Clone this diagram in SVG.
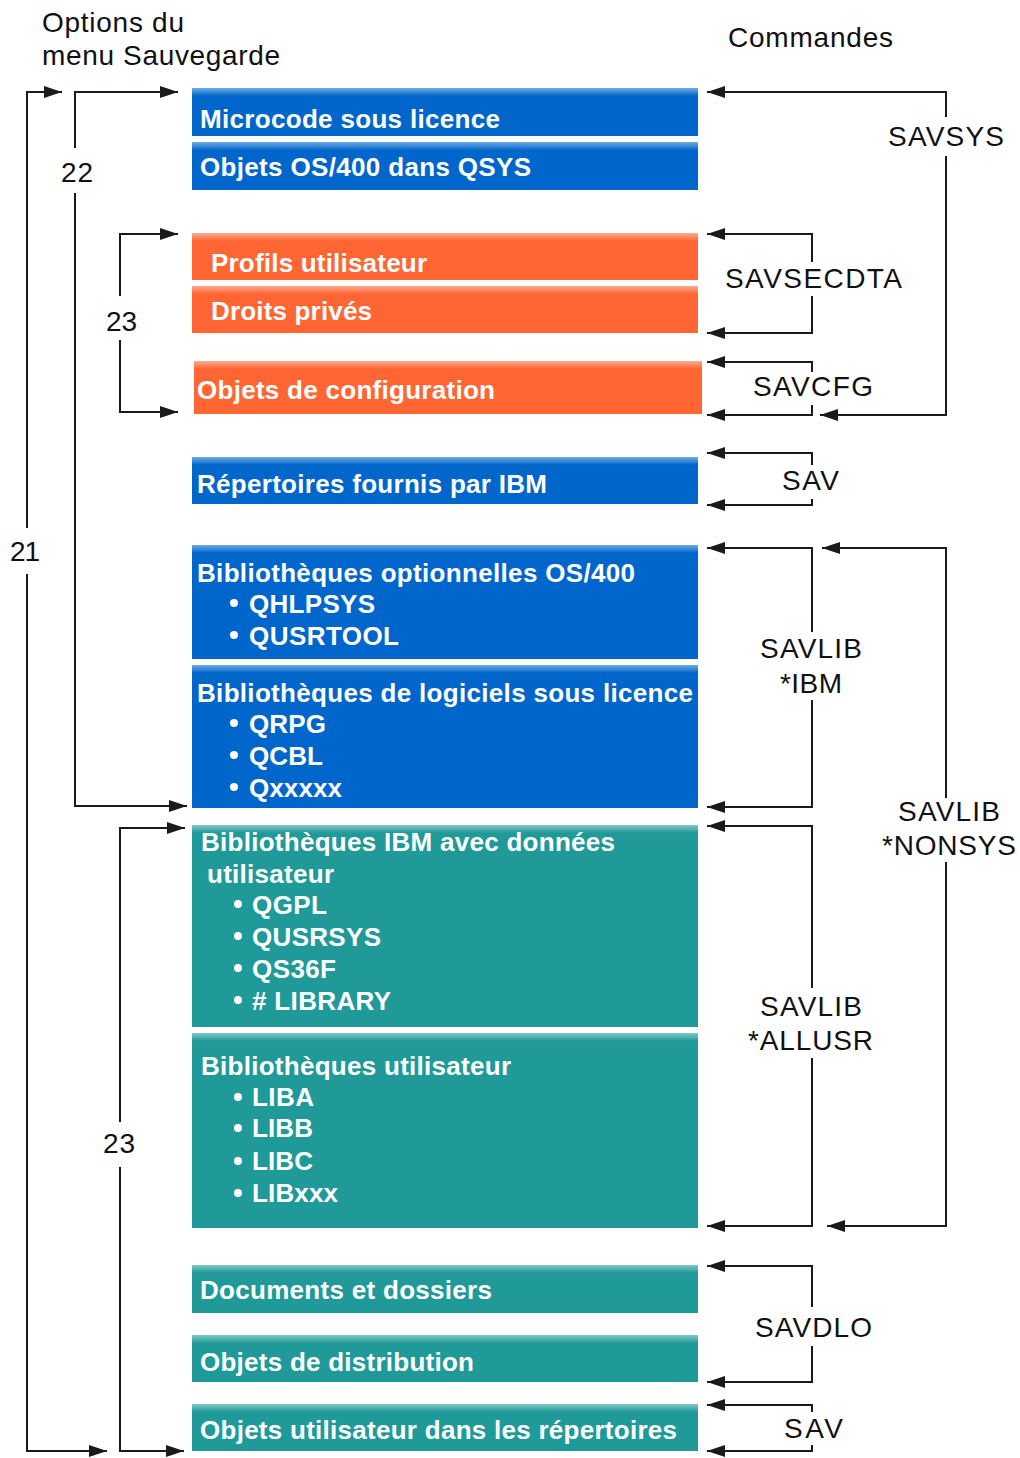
<svg xmlns="http://www.w3.org/2000/svg" width="1020" height="1458" viewBox="0 0 1020 1458">
<defs>
<style>
.lbl{font-family:"Liberation Sans",Arial,sans-serif;font-size:28px;fill:#111;}
.bt{font-family:"Liberation Sans",Arial,sans-serif;font-size:26px;font-weight:bold;fill:#fff;}
.blue{fill:#0066CC;}
.orange{fill:#FF6633;}
.teal{fill:#209A99;}
.arr{fill:none;stroke:#1a1a1a;stroke-width:2;marker-end:url(#ah);}
.dot{fill:#fff;}
</style>
<marker id="ah" markerUnits="userSpaceOnUse" markerWidth="18" markerHeight="12" refX="18" refY="6" orient="auto">
<path d="M0,0 L18,6 L0,12 Z" fill="#1a1a1a"/>
</marker>
<linearGradient id="shine" x1="0" y1="0" x2="0" y2="1">
<stop offset="0" stop-color="#fff" stop-opacity="0.45"/>
<stop offset="1" stop-color="#fff" stop-opacity="0"/>
</linearGradient>
</defs>
<rect width="1020" height="1458" fill="#fff"/>

<g id="headers">
<text class="lbl" x="42" y="32" textLength="142">Options du</text>
<text class="lbl" x="42" y="65" textLength="238">menu Sauvegarde</text>
<text class="lbl" x="728" y="47" textLength="165">Commandes</text>
</g>

<g id="n-microcode">
<rect class="blue" x="192" y="88" width="506" height="48"/>
<rect fill="url(#shine)" x="192" y="88" width="506" height="8"/>
<text class="bt" x="200" y="128" textLength="300">Microcode sous licence</text>
</g>
<g id="n-os400">
<rect class="blue" x="192" y="142" width="506" height="48"/>
<rect fill="url(#shine)" x="192" y="142" width="506" height="8"/>
<text class="bt" x="200" y="176" textLength="331">Objets OS/400 dans QSYS</text>
</g>
<g id="n-profils">
<rect class="orange" x="192" y="233" width="506" height="47"/>
<rect fill="url(#shine)" x="192" y="233" width="506" height="8"/>
<text class="bt" x="211" y="272" textLength="216">Profils utilisateur</text>
</g>
<g id="n-droits">
<rect class="orange" x="192" y="286" width="506" height="47"/>
<rect fill="url(#shine)" x="192" y="286" width="506" height="8"/>
<text class="bt" x="211" y="320" textLength="161">Droits privés</text>
</g>
<g id="n-config">
<rect class="orange" x="194" y="361" width="508" height="53"/>
<rect fill="url(#shine)" x="194" y="361" width="508" height="8"/>
<text class="bt" x="197" y="399" textLength="298">Objets de configuration</text>
</g>
<g id="n-repertoires">
<rect class="blue" x="192" y="457" width="506" height="47"/>
<rect fill="url(#shine)" x="192" y="457" width="506" height="8"/>
<text class="bt" x="197" y="493" textLength="350">Répertoires fournis par IBM</text>
</g>
<g id="n-optlib">
<rect class="blue" x="192" y="545" width="506" height="114"/>
<rect fill="url(#shine)" x="192" y="545" width="506" height="8"/>
<text class="bt" x="197" y="582" textLength="438">Bibliothèques optionnelles OS/400</text>
<circle class="dot" cx="234" cy="603" r="4"/>
<text class="bt" x="249" y="613" textLength="126">QHLPSYS</text>
<circle class="dot" cx="234" cy="635" r="4"/>
<text class="bt" x="249" y="645" textLength="150">QUSRTOOL</text>
</g>
<g id="n-lpplib">
<rect class="blue" x="192" y="665" width="506" height="143"/>
<rect fill="url(#shine)" x="192" y="665" width="506" height="8"/>
<text class="bt" x="197" y="702" textLength="496">Bibliothèques de logiciels sous licence</text>
<circle class="dot" cx="234" cy="723" r="4"/>
<text class="bt" x="249" y="733" textLength="77">QRPG</text>
<circle class="dot" cx="234" cy="755" r="4"/>
<text class="bt" x="249" y="765" textLength="74">QCBL</text>
<circle class="dot" cx="234" cy="787" r="4"/>
<text class="bt" x="249" y="797" textLength="93">Qxxxxx</text>
</g>
<g id="n-ibmuser">
<rect class="teal" x="192" y="825" width="506" height="202"/>
<rect fill="url(#shine)" x="192" y="825" width="506" height="8"/>
<text class="bt" x="201" y="851" textLength="414">Bibliothèques IBM avec données</text>
<text class="bt" x="207" y="883" textLength="127">utilisateur</text>
<circle class="dot" cx="238" cy="904" r="4"/>
<text class="bt" x="252" y="914" textLength="75">QGPL</text>
<circle class="dot" cx="238" cy="936" r="4"/>
<text class="bt" x="252" y="946" textLength="129">QUSRSYS</text>
<circle class="dot" cx="238" cy="968" r="4"/>
<text class="bt" x="252" y="978" textLength="84">QS36F</text>
<circle class="dot" cx="238" cy="1000" r="4"/>
<text class="bt" x="252" y="1010" textLength="139"># LIBRARY</text>
</g>
<g id="n-userlib">
<rect class="teal" x="192" y="1033" width="506" height="195"/>
<rect fill="url(#shine)" x="192" y="1033" width="506" height="8"/>
<text class="bt" x="201" y="1075" textLength="310">Bibliothèques utilisateur</text>
<circle class="dot" cx="238" cy="1097" r="4"/>
<text class="bt" x="252" y="1106" textLength="62">LIBA</text>
<circle class="dot" cx="238" cy="1128" r="4"/>
<text class="bt" x="252" y="1137" textLength="61">LIBB</text>
<circle class="dot" cx="238" cy="1161" r="4"/>
<text class="bt" x="252" y="1170" textLength="61">LIBC</text>
<circle class="dot" cx="238" cy="1193" r="4"/>
<text class="bt" x="252" y="1202" textLength="86">LIBxxx</text>
</g>
<g id="n-docs">
<rect class="teal" x="192" y="1265" width="506" height="48"/>
<rect fill="url(#shine)" x="192" y="1265" width="506" height="8"/>
<text class="bt" x="200" y="1299" textLength="292">Documents et dossiers</text>
</g>
<g id="n-distrib">
<rect class="teal" x="192" y="1335" width="506" height="47"/>
<rect fill="url(#shine)" x="192" y="1335" width="506" height="8"/>
<text class="bt" x="200" y="1371" textLength="274">Objets de distribution</text>
</g>
<g id="n-userobj">
<rect class="teal" x="192" y="1404" width="506" height="47"/>
<rect fill="url(#shine)" x="192" y="1404" width="506" height="8"/>
<text class="bt" x="200" y="1439" textLength="477">Objets utilisateur dans les répertoires</text>
</g>

<g id="connectors">
<path class="arr" d="M27 528 V92 H62"/>
<path class="arr" d="M27 574 V1451 H107"/>
<path class="arr" d="M75 148 V92 H178"/>
<path class="arr" d="M75 193 V806 H187"/>
<path class="arr" d="M120 296 V234 H178"/>
<path class="arr" d="M120 340 V412 H178"/>
<path class="arr" d="M120 1122 V828 H185"/>
<path class="arr" d="M120 1167 V1451 H184"/>
<path class="arr" d="M946 117 V92 H707"/>
<path class="arr" d="M946 156 V415 H820"/>
<path class="arr" d="M812 262 V234 H707"/>
<path class="arr" d="M812 296 V333 H707"/>
<path class="arr" d="M812 372 V362 H707"/>
<path class="arr" d="M812 405 V415 H707"/>
<path class="arr" d="M812 465 V453 H707"/>
<path class="arr" d="M812 499 V505 H707"/>
<path class="arr" d="M812 632 V548 H707"/>
<path class="arr" d="M812 700 V807 H707"/>
<path class="arr" d="M946 798 V548 H822"/>
<path class="arr" d="M946 862 V1226 H827"/>
<path class="arr" d="M812 988 V826 H707"/>
<path class="arr" d="M812 1058 V1226 H707"/>
<path class="arr" d="M812 1307 V1266 H707"/>
<path class="arr" d="M812 1346 V1382 H707"/>
<path class="arr" d="M812 1412 V1405 H707"/>
<path class="arr" d="M812 1445 V1451 H707"/>
</g>

<g id="labels">
<text class="lbl" x="10" y="561" textLength="30">21</text>
<text class="lbl" x="61" y="182" textLength="32">22</text>
<text class="lbl" x="106" y="331" textLength="31">23</text>
<text class="lbl" x="103" y="1153" textLength="32">23</text>
<text class="lbl" x="888" y="146" textLength="116">SAVSYS</text>
<text class="lbl" x="725" y="288" textLength="177">SAVSECDTA</text>
<text class="lbl" x="753" y="396" textLength="120">SAVCFG</text>
<text class="lbl" x="782" y="490" textLength="57">SAV</text>
<text class="lbl" x="760" y="658" textLength="102">SAVLIB</text>
<text class="lbl" x="780" y="693" textLength="62">*IBM</text>
<text class="lbl" x="898" y="821" textLength="102">SAVLIB</text>
<text class="lbl" x="882" y="855" textLength="134">*NONSYS</text>
<text class="lbl" x="760" y="1016" textLength="102">SAVLIB</text>
<text class="lbl" x="748" y="1050" textLength="125">*ALLUSR</text>
<text class="lbl" x="755" y="1337" textLength="117">SAVDLO</text>
<text class="lbl" x="784" y="1438" textLength="59">SAV</text>
</g>
</svg>
